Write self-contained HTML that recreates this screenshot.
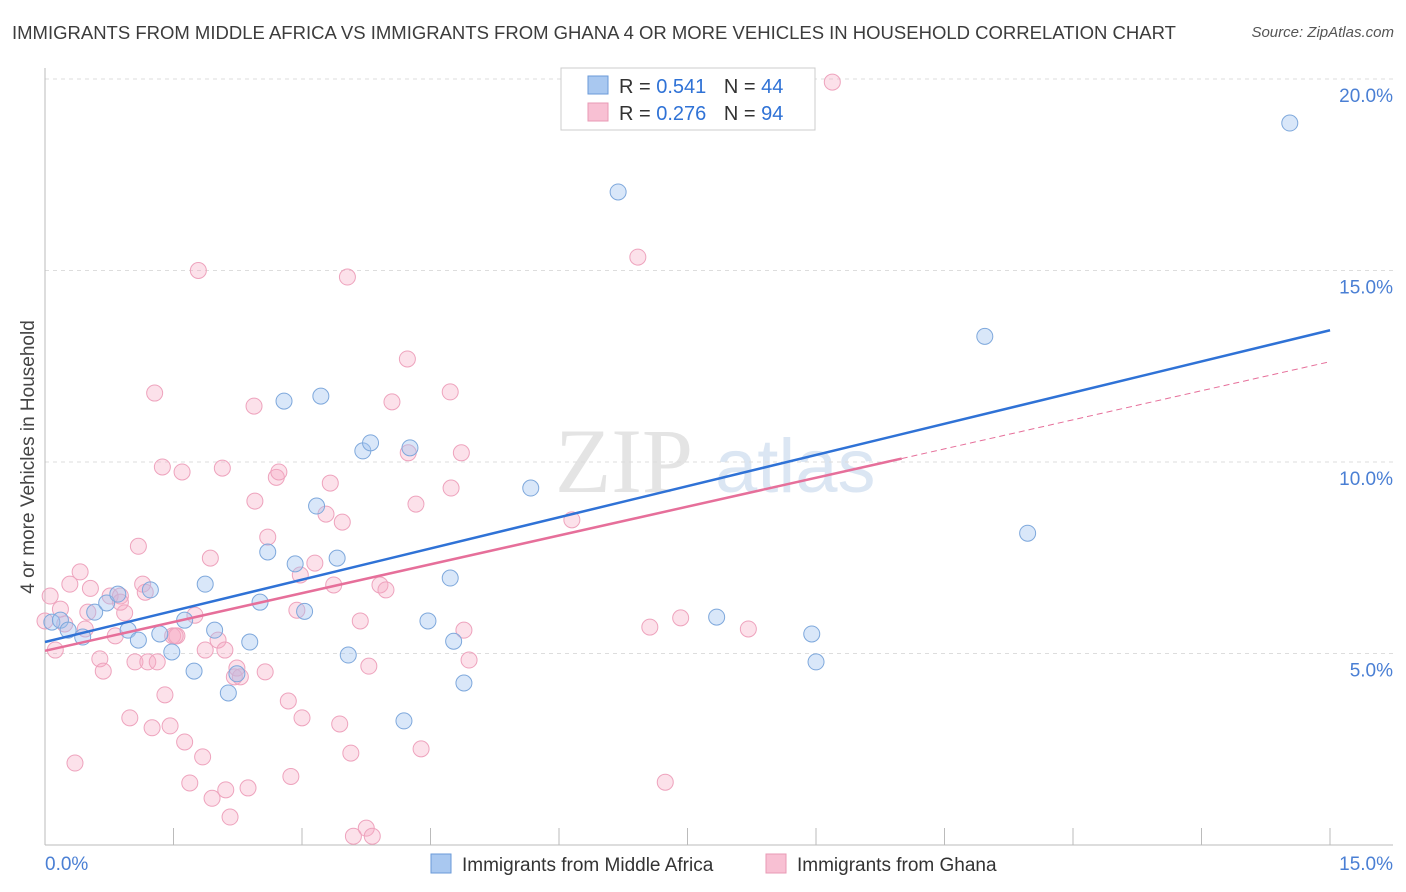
<!DOCTYPE html>
<html><head><meta charset="utf-8">
<style>
body{margin:0;background:#fff;font-family:"Liberation Sans",sans-serif;}
#wrap{position:relative;width:1406px;height:892px;overflow:hidden;}
.title{position:absolute;left:12px;top:22px;font-size:18.5px;color:#3c3c3c;}
.source{position:absolute;right:12px;top:24px;font-size:15px;color:#555;font-style:italic;}
</style></head><body>
<div id="wrap">
<div class="title">IMMIGRANTS FROM MIDDLE AFRICA VS IMMIGRANTS FROM GHANA 4 OR MORE VEHICLES IN HOUSEHOLD CORRELATION CHART</div>
<div class="source">Source: ZipAtlas.com</div>
<svg id="svg" width="1406" height="892" style="position:absolute;left:0;top:0"></svg>
</div>
<script>
const blueX=[0.08,0.18,0.27,0.44,0.58,0.72,0.85,0.97,1.09,1.23,1.34,1.48,1.63,1.74,1.87,1.98,2.14,2.24,2.39,2.51,2.6,2.79,2.92,3.03,3.17,3.22,3.41,3.54,3.71,3.8,4.19,4.26,4.47,4.73,4.77,4.89,5.67,6.69,7.84,8.95,9.0,10.97,11.47,14.53];
const blueY=[5.82,5.87,5.61,5.43,6.08,6.32,6.55,5.61,5.35,6.66,5.51,5.04,5.87,4.54,6.81,5.61,3.97,4.47,5.3,6.34,7.65,11.59,7.34,6.1,8.85,11.72,7.49,4.96,10.29,10.5,3.24,10.37,5.85,6.97,5.32,4.23,9.32,17.05,5.95,5.51,4.78,13.28,8.14,18.85];
const pinkX=[0.06,0.12,0.18,0.23,0.29,0.35,0.41,0.47,0.53,0.64,0.68,0.76,0.82,0.88,0.93,0.99,1.05,1.09,1.14,1.2,1.25,1.28,1.31,1.37,1.4,1.46,1.49,1.54,1.6,1.63,1.69,1.75,1.79,1.84,1.87,1.93,1.95,2.02,2.07,2.11,2.16,2.21,2.24,2.28,2.37,2.44,2.45,2.57,2.6,2.7,2.73,2.84,2.87,2.94,2.98,3.0,3.15,3.28,3.33,3.37,3.44,3.47,3.53,3.57,3.6,3.68,3.75,3.78,3.82,3.91,3.98,4.05,4.23,4.24,4.33,4.39,4.73,4.74,4.86,4.89,4.95,6.15,6.92,7.06,7.24,7.42,8.21,9.19,0.0,0.5,0.88,1.52,1.17,2.1];
const pinkY=[6.5,5.09,6.16,5.77,6.81,2.14,7.13,5.64,6.7,4.86,4.54,6.5,5.46,6.5,6.06,3.32,4.78,7.8,6.81,4.78,3.06,11.8,4.78,9.87,3.92,3.11,5.46,5.46,9.74,2.69,1.62,6.0,15.0,2.30,5.09,7.49,1.22,5.35,9.84,1.44,0.73,4.39,4.62,4.39,1.49,11.46,8.98,4.52,8.04,9.6,9.74,3.76,1.79,6.13,7.05,3.32,7.36,8.64,9.45,6.79,3.16,8.43,14.83,2.4,0.23,5.85,0.44,4.67,0.23,6.79,6.66,11.57,12.69,10.24,8.9,2.51,11.83,9.32,10.24,5.61,4.83,8.49,15.35,5.69,1.64,5.93,5.64,19.92,5.85,6.08,6.34,5.46,6.6,5.09];
const xTicks=[0,15], yTicks=[5,10,15,20];
const blueLine=[[0,5.3],[15,13.44]];
const pinkLine=[[0,5.07],[10,10.09],[15,12.62]];
const X=v=>45+v*85.67, Y=v=>845-v*38.3;
const svg=document.getElementById('svg');const NS='http://www.w3.org/2000/svg';
function mk(t,a,p){const e=document.createElementNS(NS,t);for(const k in a)e.setAttribute(k,a[k]);(p||svg).appendChild(e);return e;}
let wm=mk('text',{x:555,y:492,'font-size':92,'font-family':'Liberation Serif,serif',fill:'#e4e4e4'});wm.textContent='ZIP';

let wm2=mk('text',{x:715,y:492,'font-size':76,'font-family':'Liberation Sans,sans-serif',fill:'#dbe6f3'});wm2.textContent='atlas';

yTicks.forEach(v=>{let l=mk('line',{x1:45,x2:1393,y1:Y(v),y2:Y(v),stroke:'#ddd','stroke-dasharray':'4,4'});

let t=mk('text',{x:1393,y:Y(v)+23,'text-anchor':'end','font-size':19,fill:'#4a7fd4'});t.textContent=v.toFixed(1)+'%';
});
let ax=mk('line',{x1:45,x2:1393,y1:845,y2:845,stroke:'#bbb'});
let ay=mk('line',{x1:45,x2:45,y1:68,y2:845,stroke:'#bbb'});
for(let i=1;i<=10;i++){mk('line',{x1:45+i*128.5,x2:45+i*128.5,y1:828,y2:845,stroke:'#bbb'});}
xTicks.forEach((v,i)=>{let t=mk('text',{x:i?1393:45,y:870,'text-anchor':i?'end':'start','font-size':19,fill:'#4a7fd4'});t.textContent=v.toFixed(1)+'%';
});
let yt=mk('text',{x:0,y:0,transform:'translate(34,457) rotate(-90)','text-anchor':'middle','font-size':19,fill:'#444'});yt.textContent='4 or more Vehicles in Household';

pinkX.forEach((x,i)=>{let c=mk('circle',{cx:X(x),cy:Y(pinkY[i]),r:8,fill:'rgba(246,170,196,0.35)',stroke:'#eea3bd','stroke-width':1});
});
blueX.forEach((x,i)=>{let c=mk('circle',{cx:X(x),cy:Y(blueY[i]),r:8,fill:'rgba(160,196,240,0.4)',stroke:'#7ea8dc','stroke-width':1});
});
let bl=mk('line',{x1:X(blueLine[0][0]),y1:Y(blueLine[0][1]),x2:X(blueLine[1][0]),y2:Y(blueLine[1][1]),stroke:'#2f72d6','stroke-width':2.5});

let pl=mk('line',{x1:X(pinkLine[0][0]),y1:Y(pinkLine[0][1]),x2:X(pinkLine[1][0]),y2:Y(pinkLine[1][1]),stroke:'#e66f9a','stroke-width':2.5});

let pd=mk('line',{x1:X(pinkLine[1][0]),y1:Y(pinkLine[1][1]),x2:X(pinkLine[2][0]),y2:Y(pinkLine[2][1]),stroke:'#e66f9a','stroke-width':1,'stroke-dasharray':'6,4'});

let lg=mk('g',{});
mk('rect',{x:561,y:68,width:254,height:62,fill:'#fff',stroke:'#ccc'},lg);
[[76,'#a9c8f0','#6a9ad8','0.541','44'],[103,'#f8c0d3','#e89ab5','0.276','94']].forEach(r=>{
mk('rect',{x:588,y:r[0],width:20,height:18,fill:r[1],stroke:r[2]},lg);
let t=mk('text',{x:619,y:r[0]+17,'font-size':20,fill:'#333'},lg);
t.innerHTML='R = <tspan fill="#2f72d6">'+r[3]+'</tspan>  <tspan dx="12">N = </tspan><tspan fill="#2f72d6">'+r[4]+'</tspan>';});
[[431,'#a9c8f0','#6a9ad8','Immigrants from Middle Africa','legend-middle-africa'],[766,'#f8c0d3','#e89ab5','Immigrants from Ghana','legend-ghana']].forEach(r=>{
let g=mk('g',{});
mk('rect',{x:r[0],y:854,width:20,height:19,fill:r[1],stroke:r[2]},g);
let t=mk('text',{x:r[0]+31,y:871,'font-size':19,fill:'#333'},g);t.textContent=r[3];});
</script>
</body></html>
